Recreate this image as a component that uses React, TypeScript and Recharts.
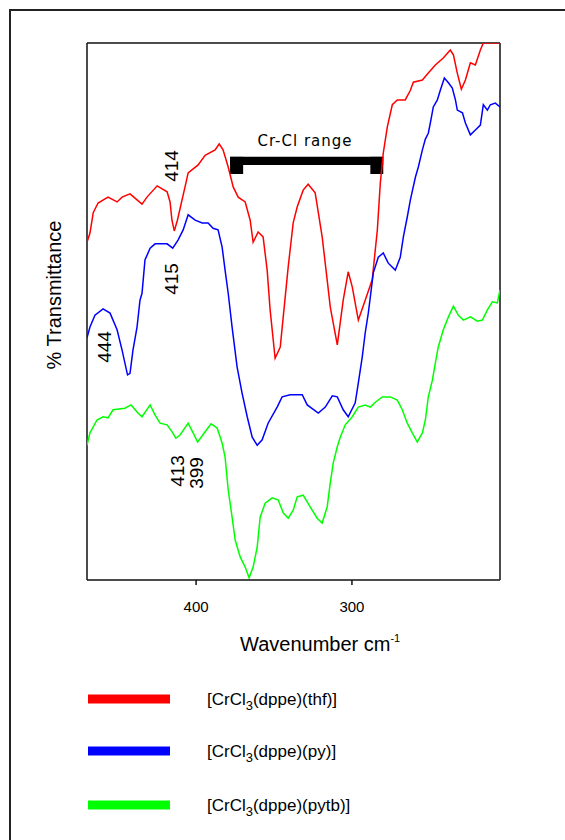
import {
  Line,
  LineChart,
  ReferenceArea,
  ReferenceLine,
  XAxis,
  YAxis,
} from "recharts";

const WAVENUMBER_TICKS = [400, 300];

// [CrCl3(dppe)(thf)]
const thfWavenumber = [
  470.0, 468.1, 466.0, 462.9, 456.5, 450.7, 447.5, 442.4, 439.2, 434.7, 431.5,
  425.0, 418.6, 416.7, 415.5, 414.0, 412.0, 407.1, 405.1, 398.7, 394.2, 387.8,
  385.2, 382.7, 379.4, 376.2, 373.0, 368.5, 365.3, 363.4, 360.2, 357.0, 354.4,
  352.5, 349.3, 346.0, 340.9, 337.7, 335.1, 331.3, 328.1, 323.6, 319.1, 315.9,
  313.9, 309.4, 305.6, 302.4, 299.8, 295.9, 291.5, 287.0, 283.7, 281.8, 279.9,
  277.3, 274.1, 270.9, 265.8, 262.5, 260.6, 254.8, 251.0, 246.5, 241.4, 236.9,
  234.9, 232.4, 229.8, 227.2, 224.0, 220.8, 217.6, 215.7, 205.0,
];
const thfTransmittance = [
  62.9, 64.6, 68.4, 70.2, 71.3, 70.4, 71.3, 71.9, 71.1, 70.0, 71.3, 73.4, 72.3,
  70.4, 67.0, 65.0, 67.0, 73.2, 75.8, 77.3, 79.1, 80.1, 81.2, 80.1, 76.9, 73.2,
  71.3, 70.4, 67.0, 62.9, 64.8, 63.9, 57.7, 50.3, 41.3, 43.4, 58.3, 66.5, 69.5,
  72.6, 73.7, 72.1, 63.9, 55.9, 50.8, 43.8, 52.1, 57.4, 54.6, 48.4, 52.1, 55.9,
  65.2, 73.9, 79.5, 84.4, 88.5, 89.4, 89.4, 91.2, 92.7, 93.1, 94.4, 95.9, 97.2,
  98.7, 97.8, 94.4, 91.4, 93.1, 96.3, 95.9, 98.7, 100, 100,
];

// [CrCl3(dppe)(py)]
const pyWavenumber = [
  470.0, 468.1, 464.9, 459.7, 455.2, 450.7, 447.5, 444.0, 442.4, 440.5, 437.9,
  436.0, 434.7, 432.8, 429.5, 426.3, 418.6, 415.0, 411.6, 408.3, 405.1, 400.6,
  396.1, 392.3, 389.1, 385.9, 383.3, 381.4, 379.4, 376.9, 373.7, 370.5, 367.2,
  364.0, 360.8, 357.6, 353.8, 348.0, 344.8, 339.6, 331.9, 328.7, 321.6, 317.1,
  312.6, 309.4, 305.6, 302.4, 297.9, 295.9, 293.4, 291.5, 289.5, 286.3, 283.1,
  279.9, 276.7, 272.2, 269.0, 267.0, 264.5, 262.5, 259.3, 257.4, 254.8, 252.9,
  251.0, 249.7, 247.8, 245.2, 243.3, 240.7, 238.1, 235.6, 233.6, 232.4, 229.1,
  227.2, 224.0, 220.8, 217.6, 215.7, 213.1, 211.2, 208.0, 205.0,
];
const pyTransmittance = [
  45.1, 47.1, 49.3, 50.5, 49.7, 46.6, 42.8, 38.2, 38.5, 42.8, 47.1, 52.1, 53.4,
  59.6, 61.8, 62.6, 62.6, 61.8, 63.3, 65.2, 68.0, 67.0, 66.5, 66.5, 65.5, 65.2,
  62.0, 57.7, 53.4, 47.1, 39.7, 34.8, 30.4, 26.6, 25.1, 26.1, 29.2, 32.2, 34.1,
  34.5, 34.5, 32.6, 31.1, 32.2, 34.3, 34.1, 31.7, 30.4, 33.0, 36.7, 41.5, 46.0,
  49.7, 57.2, 60.1, 60.9, 59.0, 57.7, 60.1, 63.9, 67.6, 70.8, 75.0, 76.9, 80.1,
  82.1, 83.2, 85.1, 88.1, 89.4, 91.2, 93.5, 92.6, 91.6, 89.4, 87.5, 87.0, 85.1,
  82.9, 83.8, 84.7, 88.5, 87.5, 88.5, 88.8, 88.1,
];

// [CrCl3(dppe)(pytb)]
const pytbWavenumber = [
  470.0, 468.1, 463.6, 459.7, 456.5, 453.3, 445.6, 441.7, 437.9, 434.7, 429.5,
  426.3, 423.1, 418.6, 415.4, 413.0, 410.3, 405.1, 401.9, 399.0, 394.2, 390.4,
  386.5, 383.3, 381.4, 379.4, 376.9, 374.9, 371.7, 368.5, 366.0, 363.4, 360.8,
  358.9, 355.7, 351.2, 347.3, 344.1, 340.9, 337.7, 335.1, 331.3, 326.8, 322.3,
  319.1, 315.9, 313.9, 312.0, 309.4, 307.5, 304.3, 299.8, 295.9, 291.5, 288.2,
  285.0, 280.5, 275.4, 270.9, 267.7, 264.5, 261.3, 258.1, 254.8, 252.9, 251.0,
  248.4, 246.5, 244.6, 241.4, 238.1, 234.9, 231.7, 228.5, 224.0, 219.5, 216.3,
  213.1, 209.9, 206.7, 205.0,
];
const pytbTransmittance = [
  25.1, 27.4, 29.8, 30.4, 30.2, 31.7, 32.0, 32.6, 31.3, 30.4, 32.6, 30.7, 29.2,
  28.9, 27.6, 26.4, 27.0, 29.2, 27.4, 25.7, 27.6, 29.1, 28.3, 25.5, 22.9, 16.8,
  11.7, 7.4, 4.3, 2.4, 0.4, 2.4, 6.1, 11.7, 14.3, 15.3, 14.9, 12.5, 11.5, 13.0,
  15.5, 15.8, 13.6, 11.5, 10.6, 13.6, 18.1, 21.8, 24.8, 26.6, 28.9, 30.4, 32.2,
  32.6, 32.2, 33.1, 34.1, 34.1, 33.5, 31.7, 29.2, 27.4, 25.7, 27.4, 29.8, 34.1,
  37.2, 40.4, 43.4, 46.6, 49.0, 51.0, 49.3, 48.4, 49.0, 48.2, 48.4, 50.3, 51.8,
  51.6, 54.0,
];

const zip = (w: number[], t: number[]) => w.map((x, i) => ({ w: x, t: t[i] }));

const SERIES = [
  { key: "thf", ligand: "thf", color: "#ff0000", data: zip(thfWavenumber, thfTransmittance) },
  { key: "py", ligand: "py", color: "#0000ff", data: zip(pyWavenumber, pyTransmittance) },
  { key: "pytb", ligand: "pytb", color: "#00ff00", data: zip(pytbWavenumber, pytbTransmittance) },
];

// rotated peak labels: text, centre x, centre y
const PEAK_LABELS: [string, number, number][] = [
  ["414", 171, 166],
  ["415", 171, 279],
  ["444", 104, 347],
  ["413", 177, 471],
  ["399", 196, 473],
];

const FONT = "'Liberation Sans', Arial, sans-serif";
const AXIS = "#111";

function App() {
  return (
    <div
      style={{
        position: "absolute",
        left: 0,
        top: 0,
        width: 565,
        height: 840,
        overflow: "hidden",
        background: "#fff",
        fontFamily: FONT,
      }}
    >
      {/* outer frame, only left and top edges fall inside the page */}
      <div
        style={{
          position: "absolute",
          left: 9,
          top: 9,
          width: 600,
          height: 900,
          borderLeft: "2px solid #222",
          borderTop: "2px solid #222",
        }}
      />

      <div style={{ position: "absolute", left: 0, top: 0 }}>
        <LineChart
          width={565}
          height={840}
          margin={{ top: 43, right: 65, bottom: 230, left: 87 }}
        >
          <XAxis
            type="number"
            dataKey="w"
            domain={[205, 470]}
            reversed
            allowDataOverflow
            ticks={WAVENUMBER_TICKS}
            height={30}
            tickSize={5}
            tickMargin={16}
            stroke={AXIS}
            strokeWidth={1.5}
            tick={{ fill: "#000", fontSize: 15, fontFamily: FONT }}
          />
          <YAxis
            type="number"
            dataKey="t"
            domain={[0, 100]}
            allowDataOverflow
            hide
          />
          {/* plot box: left, top and right edges */}
          <ReferenceLine x={470} stroke={AXIS} strokeWidth={1.5} />
          <ReferenceLine y={100} stroke={AXIS} strokeWidth={1.5} />
          <ReferenceLine x={205} stroke={AXIS} strokeWidth={1.5} />

          {/* Cr-Cl range bracket */}
          <ReferenceArea x1={378.2} x2={279.9} y1={77.3} y2={78.8} fill="#000" fillOpacity={1} stroke="none" />
          <ReferenceArea x1={378.2} x2={369.8} y1={75.6} y2={78.8} fill="#000" fillOpacity={1} stroke="none" />
          <ReferenceArea x1={288.2} x2={279.9} y1={75.6} y2={78.8} fill="#000" fillOpacity={1} stroke="none" />

          {SERIES.map((s) => (
            <Line
              key={s.key}
              data={s.data}
              dataKey="t"
              type="linear"
              stroke={s.color}
              strokeWidth={1.5}
              dot={false}
              isAnimationActive={false}
            />
          ))}
        </LineChart>
      </div>

      <svg
        width={565}
        height={840}
        style={{ position: "absolute", left: 0, top: 0, pointerEvents: "none" }}
      >
        {PEAK_LABELS.map(([txt, cx, cy]) => (
          <text
            key={txt}
            x={cx}
            y={cy}
            fontSize={19}
            fontFamily={FONT}
            textAnchor="middle"
            dominantBaseline="central"
            transform={`rotate(-90 ${cx} ${cy})`}
          >
            {txt}
          </text>
        ))}

        <text
          x={305}
          y={146}
          fontSize={15}
          fontFamily="'DejaVu Sans', sans-serif"
          letterSpacing={1}
          textAnchor="middle"
        >
          Cr-Cl range
        </text>

        <text
          x={54}
          y={295}
          fontSize={20}
          fontFamily={FONT}
          textAnchor="middle"
          dominantBaseline="central"
          transform="rotate(-90 54 295)"
        >
          % Transmittance
        </text>

        <text x={240} y={651} fontSize={20} fontFamily={FONT}>
          Wavenumber cm
          <tspan fontSize={11} dy={-9}>-1</tspan>
        </text>

        {SERIES.map((s, i) => {
          const y = [699, 751, 805][i];
          return (
            <g key={s.key}>
              <rect x={88} y={y - 4.5} width={82} height={9} fill={s.color} />
              <text x={207} y={y + 6} fontSize={17} fontFamily={FONT}>
                [CrCl
                <tspan fontSize={13} dy={5}>3</tspan>
                <tspan dy={-5}>(dppe)({s.ligand})]</tspan>
              </text>
            </g>
          );
        })}
      </svg>
    </div>
  );
}

export default App;
